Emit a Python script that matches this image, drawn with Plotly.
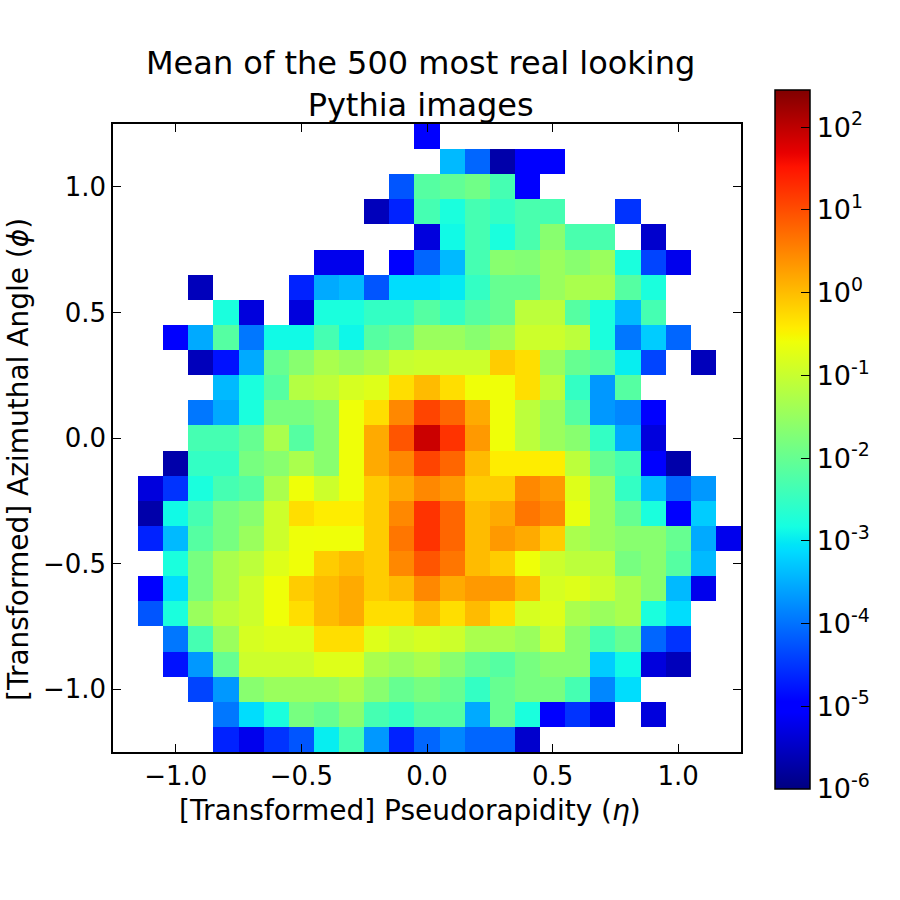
import plotly.graph_objects as go

N = None

# bin centres
eta_centers = [-1.2, -1.1, -1.0, -0.9, -0.8, -0.7, -0.6, -0.5, -0.4, -0.3, -0.2, -0.1, 0.0,
               0.1, 0.2, 0.3, 0.4, 0.5, 0.6, 0.7, 0.8, 0.9, 1.0, 1.1, 1.2]
phi_centers = [1.2, 1.1, 1.0, 0.9, 0.8, 0.7, 0.6, 0.5, 0.4, 0.3, 0.2, 0.1, 0.0,
               -0.1, -0.2, -0.3, -0.4, -0.5, -0.6, -0.7, -0.8, -0.9, -1.0, -1.1, -1.2]

# log10 of mean pixel intensity, one row per phi bin (top to bottom)
row_p12 = [N, N, N, N, N, N, N, N, N, N, N, N, -5.0, N, N, N, N, N, N, N, N, N, N, N, N]
row_p11 = [N, N, N, N, N, N, N, N, N, N, N, N, N, -3.4, -4.1, -5.69, -5.05, -5.0, N, N, N, N, N, N, N]
row_p10 = [N, N, N, N, N, N, N, N, N, N, N, -4.24, -2.17, -2.05, -1.9, -2.34, -5.0, N, N, N, N, N, N, N, N]
row_p09 = [N, N, N, N, N, N, N, N, N, N, -5.57, -4.66, -2.34, -2.78, -2.34, -2.52, -2.3, -2.34, N, N, -4.52, N, N, N, N]
row_p08 = [N, N, N, N, N, N, N, N, N, N, N, N, -5.32, -2.87, -2.34, -2.78, -2.3, -1.65, -2.3, -2.3, N, -5.44, N, N, N]
row_p07 = [N, N, N, N, N, N, N, N, -5.2, -5.2, N, -5.0, -4.1, -3.4, -2.34, -1.65, -1.7, -1.47, -1.65, -1.47, -2.78, -4.38, -5.2, N, N]
row_p06 = [N, N, N, -5.57, N, N, N, -4.66, -3.53, -3.4, -4.24, -3.11, -3.11, -3.0, -2.52, -2.0, -2.0, -1.47, -1.3, -1.3, -2.17, -2.78, N, N, N]
row_p05 = [N, N, N, N, -2.78, -5.32, N, -5.32, -2.78, -2.78, -2.52, -2.52, -2.17, -2.52, -2.17, -2.0, -1.12, -1.12, -2.17, -2.78, -3.4, -2.34, N, N, N]
row_p04 = [N, N, -5.0, -3.53, -2.17, -3.96, -2.87, -2.87, -2.34, -2.9, -2.17, -2.0, -1.47, -1.47, -1.65, -1.4, -0.95, -0.95, -1.12, -2.78, -3.96, -3.25, -4.1, N, N]
row_p03 = [N, N, N, -5.57, -4.8, -3.53, -2.0, -1.65, -1.3, -1.47, -1.3, -1.0, -0.95, -0.95, -0.95, -0.14, -0.3, -1.47, -2.0, -2.17, -2.97, -4.38, N, -5.57, N]
row_p02 = [N, N, N, N, -3.4, -2.78, -2.17, -1.2, -1.1, -0.85, -0.77, -0.3, 0.02, -0.3, -0.59, -0.59, -0.3, -1.12, -2.52, -3.68, -2.17, N, N, N, N]
row_p01 = [N, N, N, -3.96, -3.53, -2.78, -1.82, -1.82, -1.65, -0.59, -0.3, 0.47, 1.08, 0.78, 0.17, -0.59, -1.12, -1.47, -2.17, -3.68, -3.82, -5.0, N, N, N]
row_z00 = [N, N, N, -2.34, -2.34, -2.0, -1.3, -2.17, -1.65, -0.59, 0.17, 0.93, 1.9, 1.23, 0.32, -0.59, -1.12, -1.47, -1.65, -2.52, -3.53, -5.32, N, N, N]
row_m01 = [N, N, -5.69, -2.52, -2.52, -1.82, -1.65, -1.3, -1.65, -0.59, 0.17, 0.47, 1.08, 0.78, 0.02, -0.43, -0.43, -0.43, -1.12, -2.0, -2.34, -5.0, -5.69, N, N]
row_m02 = [N, -5.32, -4.52, -2.78, -2.34, -2.17, -1.3, -0.59, -0.95, -0.59, -0.14, 0.17, 0.47, 0.32, -0.14, -0.14, 0.47, 0.32, -0.77, -1.47, -2.52, -3.4, -4.1, -3.68, N]
row_m03 = [N, -5.69, -2.87, -2.34, -1.82, -1.65, -0.95, -0.3, -0.43, -0.43, -0.14, 0.47, 1.23, 0.78, 0.02, 0.17, 0.63, 0.47, -0.65, -1.47, -2.0, -2.78, -5.0, -3.25, N]
row_m04 = [N, -4.66, -3.4, -2.17, -1.82, -1.47, -0.95, -0.6, -0.59, -0.59, -0.14, 0.63, 1.23, 0.78, 0.02, 0.32, 0.17, -0.14, -1.3, -1.47, -1.65, -1.65, -2.0, -3.53, -5.2]
row_m05 = [N, N, -2.78, -1.82, -1.3, -1.12, -0.77, -0.59, -0.14, 0.02, -0.14, 0.47, 0.93, 0.63, 0.02, -0.14, -0.59, -0.95, -1.12, -1.12, -1.82, -1.65, -2.17, -3.4, N]
row_m06 = [N, -5.0, -3.11, -1.82, -1.3, -0.95, -0.59, -0.14, 0.02, 0.17, -0.14, 0.02, 0.47, 0.17, 0.32, 0.32, 0.02, -0.85, -0.77, -0.95, -1.3, -1.65, -3.4, -5.2, N]
row_m07 = [N, -4.24, -2.78, -1.47, -1.12, -0.95, -0.59, -0.3, 0.02, 0.17, -0.3, -0.3, 0.02, -0.3, 0.02, -0.3, -0.85, -0.77, -1.3, -1.47, -1.3, -2.78, -3.11, N, N]
row_m08 = [N, N, -3.96, -2.34, -1.47, -0.85, -0.77, -0.77, -0.3, -0.3, -0.77, -0.95, -0.85, -0.95, -1.3, -1.3, -1.47, -0.95, -1.65, -2.34, -2.0, -4.1, -4.52, N, N]
row_m09 = [N, N, -4.8, -3.68, -2.0, -0.95, -0.95, -0.95, -0.77, -0.77, -1.3, -1.47, -1.3, -1.65, -2.0, -2.17, -1.82, -1.65, -1.65, -3.25, -2.87, -5.32, -5.57, N, N]
row_m10 = [N, N, N, -4.38, -3.68, -1.65, -1.47, -1.47, -1.47, -1.3, -1.65, -2.0, -1.82, -2.0, -2.52, -2.0, -1.82, -1.82, -2.34, -3.82, -3.11, N, N, N, N]
row_m11 = [N, N, N, N, -3.96, -3.11, -2.78, -1.82, -2.0, -1.65, -2.34, -2.52, -2.17, -2.17, -3.53, -2.0, -2.78, -5.0, -4.52, -5.2, N, -5.32, N, N, N]
row_m12 = [N, N, N, N, -4.66, -5.2, -4.52, -4.24, -2.97, -2.34, -3.68, -4.66, -4.1, -3.82, -4.1, -4.1, -5.44, N, N, N, N, N, N, N, N]

log_intensity = [row_p12, row_p11, row_p10, row_p09, row_p08, row_p07, row_p06, row_p05,
                 row_p04, row_p03, row_p02, row_p01, row_z00, row_m01, row_m02, row_m03,
                 row_m04, row_m05, row_m06, row_m07, row_m08, row_m09, row_m10, row_m11, row_m12]

cbar_exponents = [-6, -5, -4, -3, -2, -1, 0, 1, 2]
cbar_labels = ["10<sup>%d</sup>" % e for e in cbar_exponents]
x_ticks = [-1.0, -0.5, 0.0, 0.5, 1.0]
x_ticklabels = ["\u22121.0", "\u22120.5", "0.0", "0.5", "1.0"]
y_ticks = [-1.0, -0.5, 0.0, 0.5, 1.0]
y_ticklabels = ["\u22121.0", "\u22120.5", "0.0", "0.5", "1.0"]
log_min, log_max = -6.0, 2.45


# matplotlib "jet" colormap as a plotly colorscale
def _seg(pts, f):
    for (x0, y0), (x1, y1) in zip(pts, pts[1:]):
        if x0 <= f <= x1:
            return y0 if x1 == x0 else y0 + (y1 - y0) * (f - x0) / (x1 - x0)
    return pts[-1][1]


def jet(f):
    r = _seg([(0, 0), (0.35, 0), (0.66, 1), (0.89, 1), (1, 0.5)], f)
    g = _seg([(0, 0), (0.125, 0), (0.375, 1), (0.64, 1), (0.91, 0), (1, 0)], f)
    b = _seg([(0, 0.5), (0.11, 1), (0.34, 1), (0.65, 0), (1, 0)], f)
    return "rgb(%d,%d,%d)" % (round(r * 255), round(g * 255), round(b * 255))


stops = [0, 0.11, 0.125, 0.34, 0.35, 0.375, 0.64, 0.65, 0.66, 0.89, 0.91, 1]
jet_scale = [[s, jet(s)] for s in stops]

FONT = "DejaVu Sans"

fig = go.Figure(go.Heatmap(
    x=eta_centers, y=phi_centers, z=log_intensity,
    zmin=log_min, zmax=log_max, colorscale=jet_scale,
    hoverongaps=False,
    colorbar=dict(
        tickmode="array", tickvals=cbar_exponents, ticktext=cbar_labels,
        ticks="inside", ticklen=9, tickwidth=1, tickcolor="black",
        outlinecolor="black", outlinewidth=1.5,
        thickness=35, thicknessmode="pixels",
        len=699 / 628, lenmode="fraction",
        x=(775 - 113) / 628, xanchor="left",
        y=(752 - 439.5) / 628, yanchor="middle",
        xpad=0, ypad=0,
        tickfont=dict(family=FONT, size=27, color="black"),
    ),
))

axis_common = dict(
    range=[-1.25, 1.25], showgrid=False, zeroline=False,
    showline=True, linecolor="black", linewidth=1.5, mirror="allticks",
    ticks="inside", ticklen=8, tickwidth=1, tickcolor="black",
    tickfont=dict(family=FONT, size=26, color="black"),
    tickmode="array",
)

fig.update_xaxes(**axis_common, tickvals=x_ticks, ticktext=x_ticklabels)
fig.update_yaxes(**axis_common, tickvals=y_ticks, ticktext=y_ticklabels)

fig.update_layout(
    width=900, height=900,
    margin=dict(l=113, r=159, t=124, b=148, pad=0),
    paper_bgcolor="white", plot_bgcolor="white",
    font=dict(family=FONT, color="black"),
    annotations=[
        dict(text="Mean of the 500 most real looking<br>Pythia images",
             x=(420 - 113) / 628, y=(752 - 84) / 628, xref="paper", yref="paper",
             xanchor="center", yanchor="middle", showarrow=False,
             font=dict(family=FONT, size=32, color="black")),
        dict(text="[Transformed] Pseudorapidity (<i>η</i>)",
             x=(410 - 113) / 628, y=(752 - 810) / 628, xref="paper", yref="paper",
             xanchor="center", yanchor="middle", showarrow=False,
             font=dict(family=FONT, size=28, color="black")),
        dict(text="[Transformed] Azimuthal Angle (<i>ϕ</i>)",
             x=(18 - 113) / 628, y=(752 - 460) / 628, xref="paper", yref="paper",
             xanchor="center", yanchor="middle", showarrow=False, textangle=-90,
             font=dict(family=FONT, size=28, color="black")),
    ],
)

fig.write_html("out.html")
